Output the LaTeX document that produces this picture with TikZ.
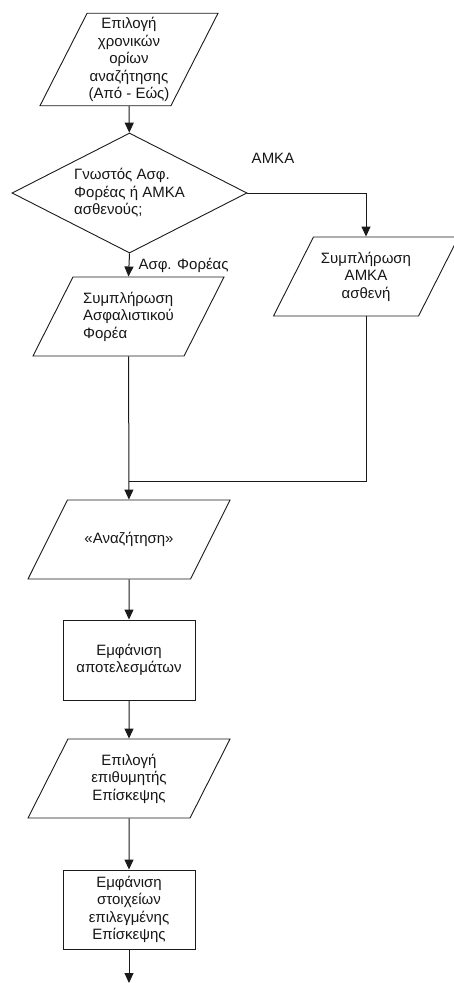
\documentclass[tikz,border=0pt]{standalone}
\usepackage{fontspec}
\setmainfont{Liberation Sans}
\newcommand{\chartfont}{\fontsize{15}{17.5}\selectfont}
\usepackage{xcolor}
\definecolor{FlowInk}{HTML}{161616}
\definecolor{FlowLine}{HTML}{1A1A1A}
\definecolor{FlowPaper}{HTML}{FFFFFF}
\usetikzlibrary{shapes.geometric,arrows.meta}

\begin{document}
\begin{tikzpicture}[
        x=1pt, y=-1pt,
        inputbox/.style={
            draw=FlowLine,
            line width=0.9pt,
            trapezium,
            trapezium left angle=63,
            trapezium right angle=117,
            trapezium stretches body,
            minimum height=79pt,
            inner xsep=0pt,
            inner ysep=14.5pt,
            text=FlowInk,
            align=center,
            font=\chartfont
        },
        decision/.style={
            draw=FlowLine,
            line width=0.9pt,
            diamond,
            aspect=1.96,
            minimum width=235pt,
            minimum height=120pt,
            inner sep=0pt,
            text=FlowInk,
            align=left,
            font=\chartfont
        },
        process/.style={
            draw=FlowLine,
            line width=0.9pt,
            minimum width=132pt,
            minimum height=80pt,
            inner sep=0pt,
            text=FlowInk,
            align=center,
            font=\chartfont
        },
        link/.style={
            line width=1pt,
            draw=FlowLine
        },
        flow/.style={
            link,
            -{Triangle[width=9pt,length=10pt]}
        },
        flowlabel/.style={
            text=FlowInk,
            inner sep=1pt,
            font=\chartfont
        }
    ]
        \useasboundingbox (0,0) rectangle (454,983);

        \node[inputbox, minimum width=178pt, inner ysep=4pt] (period) at (129,59.5)
            {Επιλογή\\χρονικών\\ορίων\\αναζήτησης\\(Από - Εώς)};
        \node[decision] (question) at (129.5,193)
            {Γνωστός Ασφ.\\Φορέας ή ΑΜΚΑ\\ασθενούς;};
        \node[inputbox, minimum width=191pt, align=left] (fund) at (128.5,316.5)
            {Συμπλήρωση\\Ασφαλιστικού\\Φορέα};
        \node[inputbox, minimum width=185pt] (amka) at (366,276.5)
            {Συμπλήρωση\\ΑΜΚΑ\\ασθενή};
        \node[inputbox, minimum width=202pt, inner ysep=31.5pt] (search) at (129,539.5)
            {«Αναζήτηση»};
        \node[process] (results) at (129,660)
            {Εμφάνιση\\αποτελεσμάτων};
        \node[inputbox, minimum width=202pt] (choice) at (129,778.5)
            {Επιλογή\\επιθυμητής\\Επίσκεψης};
        \node[process, minimum height=79pt] (details) at (129,909.5)
            {Εμφάνιση\\στοιχείων\\επιλεγμένης\\Επίσκεψης};

        \node[flowlabel] (amkalabel) at (273,158) {ΑΜΚΑ};
        \coordinate (merge) at (128.5,481);
        \coordinate (next) at (129,983);

        \draw[flow] (period) -- (question);
        \draw[flow] (question.east) -| (amka.north);
        \draw[flow] (question.south) -- node[flowlabel, right, xshift=8pt] (fundlabel) {Ασφ. Φορέας} (fund.north);
        \draw[link] (amka.south) |- (merge);
        \draw[flow] (fund) -- (search);
        \draw[flow] (search) -- (results);
        \draw[flow] (results) -- (choice);
        \draw[flow] (choice) -- (details);
        \draw[flow] (details) -- (next);
    \end{tikzpicture}
\end{document}
